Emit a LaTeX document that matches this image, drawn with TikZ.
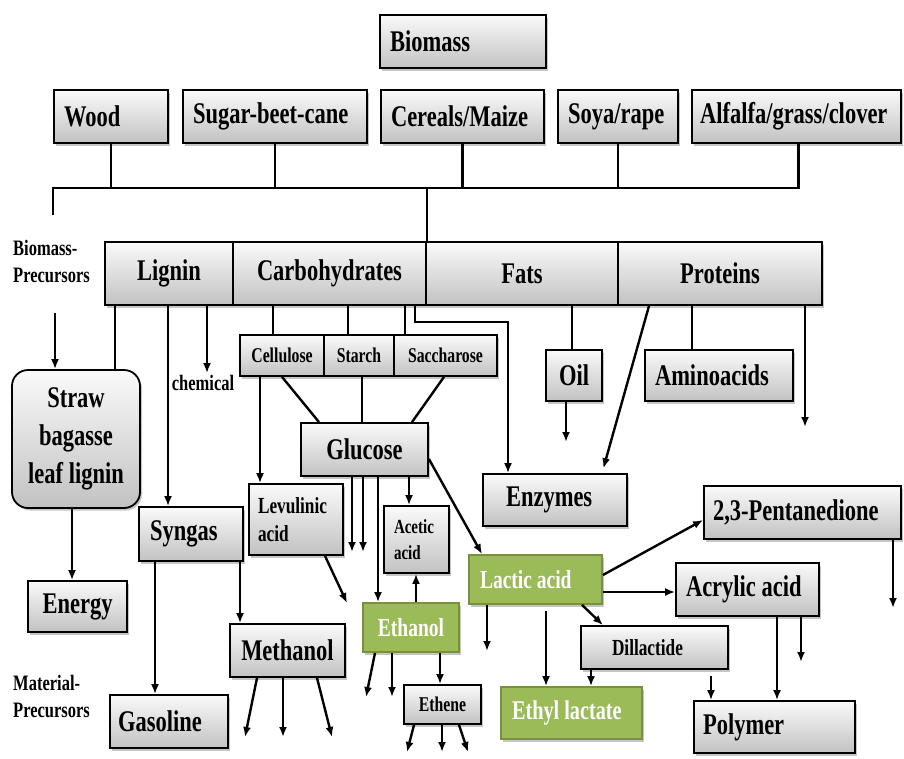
\documentclass[tikz,border=0pt]{standalone}
\usepackage{fontspec}
\setmainfont{Liberation Serif}[FakeStretch=0.75]
\usepackage{tikz}
\usetikzlibrary{arrows.meta, shadows}
\definecolor{leafgreen}{HTML}{9BBB59}
\definecolor{leafedge}{HTML}{76933C}

\begin{document}
\begin{tikzpicture}[x=1pt, y=-1pt, >={Latex[length=10pt,width=8pt]},
    base/.style={draw, line width=1.8pt, inner ysep=0pt, inner xsep=10pt, align=flush left, minimum height=53pt,
        drop shadow={shadow xshift=2pt, shadow yshift=-2.5pt, fill=black!45, opacity=.5},
        font=\bfseries\fontsize{30}{38}\selectfont},
    box/.style={base, top color=gray!4, bottom color=gray!48},
    leaf/.style={base, fill=leafgreen, draw=leafedge, text=white},
    small/.style={font=\bfseries\fontsize{21}{26}\selectfont},
    tag/.style={inner sep=2pt, align=flush left, font=\bfseries\fontsize{22}{27}\selectfont},
    link/.style={line width=2.4pt},
    flow/.style={link, ->}]
    \useasboundingbox (0,0) rectangle (904,758);

    % Sources
    \node (biomass) at (463,41.5) [box, text width=146pt] {Biomass};
    \node (wood) at (111,116.5) [box, text width=94pt] {Wood};
    \node (sugar) at (275,116.5) [box, text width=164pt] {Sugar-beet-cane};
    \node (cereals) at (462.5,116.5) [box, text width=143pt] {Cereals/Maize};
    \node (soya) at (618,116.5) [box, text width=100pt] {Soya/rape};
    \node (alfalfa) at (796.5,116.5) [box, inner xsep=8pt, text width=193pt] {Alfalfa/grass/clover};

    % Biomass precursors
    \node (bplabel) at (11,261.5) [tag, anchor=west] {Biomass-\\Precursors};
    \node (lignin) at (169,273.5) [box, inner xsep=0pt, minimum width=128pt, minimum height=63pt] {Lignin};
    \node (carbo) at (329.5,273.5) [box, inner xsep=0pt, minimum width=193pt, minimum height=63pt] {Carbohydrates};
    \node (fats) at (522,273.5) [box, inner xsep=0pt, minimum width=192pt, minimum height=63pt] {Fats};
    \node (proteins) at (720,273.5) [box, inner xsep=0pt, minimum width=204pt, minimum height=63pt] {Proteins};

    % Lignin branch
    \node (straw) at (76,439) [box, rounded corners=16pt, align=center, inner xsep=0pt, minimum width=128pt, minimum height=138pt] {Straw\\bagasse\\leaf lignin};
    \node (energy) at (77.5,606.5) [box, inner xsep=0pt, minimum width=99pt, minimum height=51pt] {Energy};
    \node (chemical) at (203,383) [tag] {chemical};
    \node (syngas) at (191,534) [box, inner xsep=11pt, text width=82pt, minimum height=54pt] {Syngas};
    \node (gasoline) at (169,721.5) [box, inner xsep=8pt, text width=102pt] {Gasoline};
    \node (methanol) at (287.5,650.5) [box, inner xsep=0pt, minimum width=115pt] {Methanol};

    % Carbohydrate branch
    \node (cellulose) at (282,355.5) [box, small, inner xsep=0pt, minimum width=84pt, minimum height=41pt] {Cellulose};
    \node (starch) at (359,355.5) [box, small, inner xsep=0pt, minimum width=70pt, minimum height=41pt] {Starch};
    \node (sacch) at (445.5,355.5) [box, small, inner xsep=0pt, minimum width=103pt, minimum height=41pt] {Saccharose};
    \node (glucose) at (364.5,449.5) [box, inner xsep=0pt, minimum width=127pt] {Glucose};
    \node (levulinic) at (296,519.5) [box, inner xsep=9pt, text width=76pt, minimum height=71pt, font=\bfseries\fontsize{23}{28}\selectfont] {Levulinic\\acid};
    \node (acetic) at (416.5,539.5) [box, inner xsep=10pt, text width=45pt, minimum height=67pt, font=\bfseries\fontsize{20}{26}\selectfont] {Acetic\\acid};
    \node (ethanol) at (411,627.5) [leaf, inner xsep=0pt, minimum width=96pt, minimum height=49pt, font=\bfseries\fontsize{26}{30}\selectfont] {Ethanol};
    \node (ethene) at (442.5,704.5) [box, small, inner xsep=0pt, minimum width=77pt, minimum height=39pt] {Ethene};
    \node (lactic) at (535.5,579.5) [leaf, inner xsep=11pt, text width=111pt, minimum height=49pt, font=\bfseries\fontsize{26}{30}\selectfont] {Lactic acid};
    \node (ethyl) at (571.5,713) [leaf, inner xsep=11pt, text width=119pt, minimum height=52pt, font=\bfseries\fontsize{27}{30}\selectfont] {Ethyl lactate};
    \node (dillactide) at (654.5,647.5) [box, inner xsep=31pt, text width=85pt, minimum height=43pt, font=\bfseries\fontsize{23}{28}\selectfont] {Dillactide};
    \node (acrylic) at (747.5,589.5) [box, text width=123pt] {Acrylic acid};
    \node (polymer) at (774.5,727) [box, inner xsep=9pt, text width=143pt, minimum height=52pt] {Polymer};
    \node (pentane) at (802.5,512.5) [box, inner xsep=9pt, text width=179pt] {2,3-Pentanedione};

    % Fats and proteins branch
    \node (oil) at (574,375.5) [box, inner xsep=0pt, minimum width=56pt, minimum height=51pt] {Oil};
    \node (amino) at (719,375.5) [box, text width=128pt, minimum height=51pt] {Aminoacids};
    \node (enzymes) at (555,500) [box, inner xsep=23pt, text width=98pt, minimum height=52pt] {Enzymes};

    % Material precursors
    \node (mplabel) at (11,696) [tag, anchor=west] {Material-\\Precursors};

    % Collecting line
    \coordinate (busend) at (53,215);
    \draw [link] (busend) -- (busend |- 0,188) -| ([xshift=2pt]alfalfa.south);
    \foreach \src in {wood, sugar, cereals, soya}
        \draw [link] (\src.south) -- (\src.south |- 0,188);
    \draw [link] (carbo.north east) -- (carbo.north east |- 0,188);

    % Lignin routes
    \coordinate (strawin) at (55,313);
    \draw [flow] (strawin) -- (strawin |- straw.north);
    \draw [link] (lignin.south -| 115,0) -- (straw.north -| 115,0);
    \draw [flow] (straw.south -| 72,0) -- (energy.north -| 72,0);
    \draw [flow] (lignin.south -| 168,0) -- (syngas.north -| 168,0);
    \draw [flow] (lignin.south -| 207,0) -- (chemical.north -| 207,0);
    \draw [flow] (syngas.south -| 155,0) -- (gasoline.north -| 155,0);
    \draw [flow] (syngas.south -| 240,0) -- (methanol.north -| 240,0);
    \foreach \a/\b [count=\i] in {257/245, 283/283, 317/332} {
        \coordinate (meth\i) at (\b,737);
        \draw [flow] (methanol.south -| \a,0) -- (meth\i);
    }

    % Carbohydrate routes
    \foreach \x/\dst in {273/cellulose, 348/starch, 405/sacch}
        \draw [link] (carbo.south -| \x,0) -- (\dst.north -| \x,0);
    \coordinate (elbow) at (508,322);
    \draw [flow] (carbo.south -| 415,0) |- (elbow) -- (enzymes.north -| elbow);
    \draw [link] (cellulose.south) -- (glucose.north -| 319,0);
    \draw [link] (starch.south -| 362,0) -- (glucose.north -| 362,0);
    \draw [link] (sacch.south -| 444,0) -- (glucose.north -| 412,0);
    \draw [flow] (cellulose.south -| 260,0) -- (levulinic.north -| 260,0);
    \coordinate (gl1) at (352,552);
    \coordinate (gl2) at (363,552);
    \draw [flow] (glucose.south -| gl1) -- (gl1);
    \draw [flow] (glucose.south -| gl2) -- (gl2);
    \draw [flow] (glucose.south -| 378,0) -- (ethanol.north -| 378,0);
    \draw [flow] (glucose.south -| 409,0) -- (acetic.north -| 409,0);
    \draw [flow] (ethanol.north -| 416,0) -- (acetic.south -| 416,0);
    \draw [flow] (glucose.east |- 0,459) -- (lactic.north -| 482,0);
    \coordinate (levout) at (347,603);
    \draw [flow] (levulinic.south -| 325,0) -- (levout);

    % Ethanol routes
    \coordinate (eth1) at (366,697);
    \coordinate (eth2) at (392,697);
    \draw [flow] (ethanol.south -| 375,0) -- (eth1);
    \draw [flow] (ethanol.south -| 392,0) -- (eth2);
    \draw [flow] (ethanol.south -| 440,0) -- (ethene.north -| 440,0);
    \foreach \a/\b [count=\i] in {414/407, 442/442, 459/468} {
        \coordinate (ene\i) at (\b,752);
        \draw [flow] (ethene.south -| \a,0) -- (ene\i);
    }

    % Lactic acid routes
    \coordinate (lacout) at (487,651);
    \draw [flow] (lactic.south -| lacout) -- (lacout);
    \draw [flow, shorten <=6pt] (lactic.south -| 546,0) -- (ethyl.north -| 546,0);
    \draw [flow] (lactic.south -| 582,0) -- (dillactide.north -| 603,0);
    \draw [flow] (dillactide.south -| 591,0) -- (ethyl.north -| 591,0);
    \draw [flow, shorten <=6pt] (dillactide.south -| 711,0) -- (polymer.north -| 711,0);
    \draw [flow] (lactic.east |- 0,592) -- (acrylic.west |- 0,592);
    \draw [flow] (lactic.east |- 0,575) -- (pentane.west |- 0,520);
    \draw [flow] (acrylic.south -| 777,0) -- (polymer.north -| 777,0);
    \coordinate (acrout) at (801,662);
    \draw [flow] (acrylic.south -| acrout) -- (acrout);
    \coordinate (penout) at (893,608);
    \draw [flow] (pentane.south -| penout) -- (penout);

    % Fats and proteins routes
    \draw [link] (fats.south -| 572,0) -- (oil.north -| 572,0);
    \coordinate (oilout) at (566,442);
    \draw [flow] (oil.south -| oilout) -- (oilout);
    \draw [flow, shorten >=5pt] (proteins.south -| 649,0) -- (enzymes.north -| 602,0);
    \draw [link] (proteins.south -| 692,0) -- (amino.north -| 692,0);
    \coordinate (proout) at (805,427);
    \draw [flow] (proteins.south -| proout) -- (proout);
\end{tikzpicture}
\end{document}
